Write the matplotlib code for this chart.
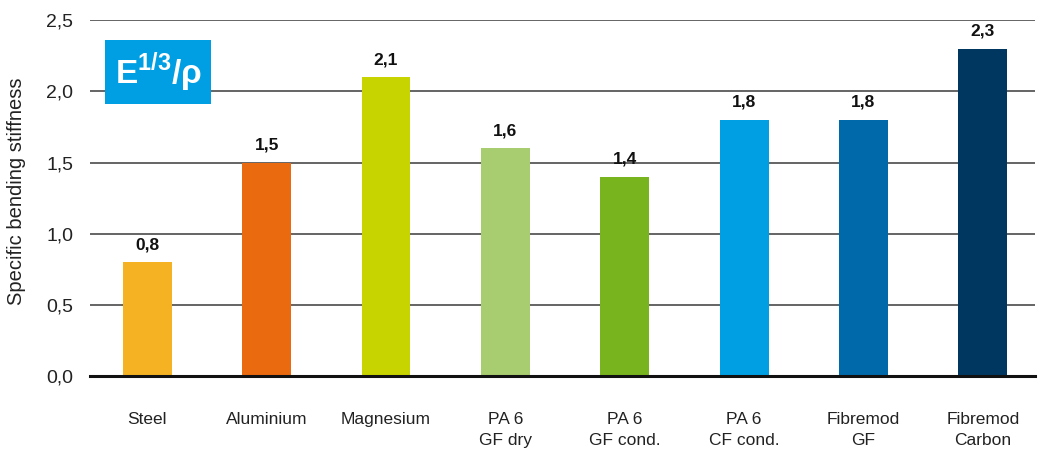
import matplotlib.pyplot as plt
import numpy as np

materials = ["Steel", "Aluminium", "Magnesium", "PA 6\nGF dry", "PA 6\nGF cond.",
             "PA 6\nCF cond.", "Fibremod\nGF", "Fibremod\nCarbon"]
stiffness = [0.8, 1.5, 2.1, 1.6, 1.4, 1.8, 1.8, 2.3]
colors = ["#F5B324", "#EA6A10", "#C8D400", "#A8CC70", "#78B41E",
          "#009FE3", "#0069AA", "#003761"]
yticks = [0.0, 0.5, 1.0, 1.5, 2.0, 2.5]

plt.rcParams['font.family'] = ['Liberation Sans', 'DejaVu Sans']
plt.rcParams['mathtext.fontset'] = 'custom'
plt.rcParams['mathtext.rm'] = 'Liberation Sans'
plt.rcParams['mathtext.bf'] = 'Liberation Sans:bold'

fig = plt.figure(figsize=(10.41, 4.57), dpi=100)
ax = fig.add_axes([0.0865, 0.177, 0.908, 0.779])

x = np.arange(len(materials))
ax.set_axisbelow(True)
ax.bar(x, stiffness, width=0.41, color=colors, zorder=2)

for xi, v in zip(x, stiffness):
    ax.text(xi, v + 0.07, f"{v:.1f}".replace(".", ","), ha="center", va="bottom",
            fontsize=12.5, fontweight="bold", color="#111111")

ax.set_xlim(-0.48, 7.44)
ax.set_ylim(0, 2.5)
ax.set_yticks(yticks)
ax.set_yticklabels([f"{t:.1f}".replace(".", ",") for t in yticks], fontsize=14, color="#222222")
ax.yaxis.grid(True, color="#4a4a4a", linewidth=1.2)
ax.tick_params(axis="y", length=0, pad=12)
ax.set_xticks(x)
ax.set_xticklabels(materials, fontsize=12.5, color="#222222", linespacing=1.45)
ax.tick_params(axis="x", length=0, pad=26)
for s in ["top", "right", "left"]:
    ax.spines[s].set_visible(False)
ax.spines["bottom"].set_linewidth(2.2)
ax.spines["bottom"].set_color("#111111")

ax.set_ylabel("Specific bending stiffness", fontsize=14.5, color="#222222")
ax.yaxis.set_label_coords(-0.068, 0.52)

ax.text(0.09, 2.135, r"E$^{\mathbf{1/3}}$/ρ", fontsize=24, fontweight="bold", color="white",
        ha="center", va="center", zorder=5,
        bbox=dict(boxstyle="square,pad=0.3", facecolor="#009FE3", edgecolor="none"))

fig.savefig("out.png", dpi=100)
